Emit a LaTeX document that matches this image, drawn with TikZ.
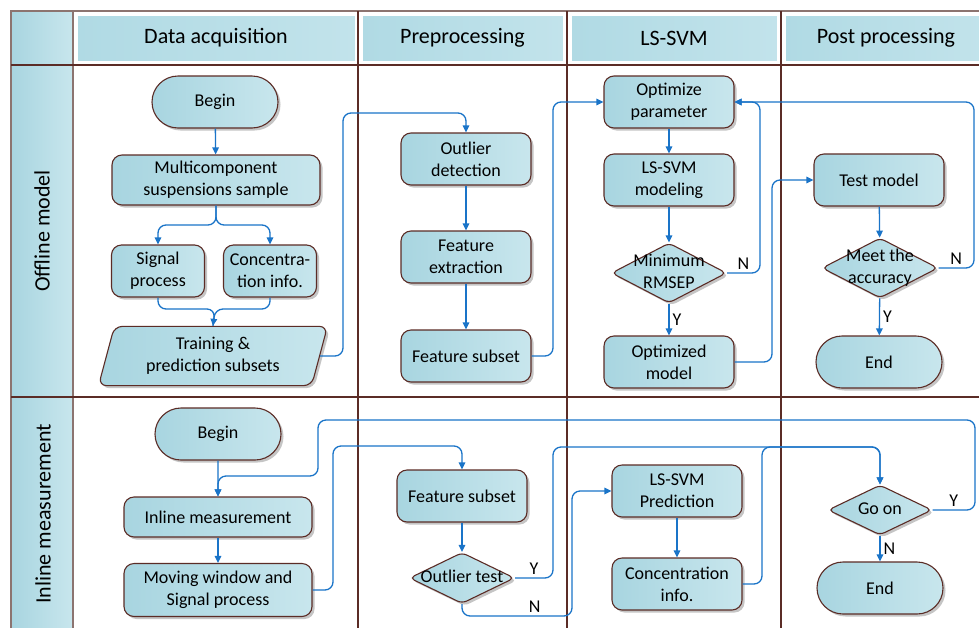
\documentclass[tikz,border=0pt]{standalone}
\usepackage{fontspec}
\setmainfont{Carlito}
\usetikzlibrary{shapes.geometric,shapes.misc,shadows,arrows.meta,positioning}
\definecolor{laneline}{HTML}{5B2C26}
\definecolor{lanegray}{HTML}{8C7470}
\definecolor{flowblue}{HTML}{1A74C8}
\definecolor{boxdark}{HTML}{A8D5E0}
\definecolor{boxlight}{HTML}{C8E6ED}
\definecolor{headdark}{HTML}{B0DAE4}
\definecolor{headlight}{HTML}{C2E3EB}
\newcommand{\decisiontext}[1]{\smash{\makebox[0pt]{\raisebox{-.25em}{\begin{tabular}{@{}c@{}}#1\end{tabular}}}}}
\tikzset{
    box-base/.style = {draw=laneline, line width=1.1pt, left color=boxdark, right color=boxlight, drop shadow={shadow xshift=2.5pt, shadow yshift=-2.5pt, fill=black!45, opacity=.5}, font=\fontsize{18}{22}\selectfont, align=center, inner sep=2pt},
    process-box/.style = {box-base, rectangle, rounded corners=10pt, minimum width=130pt, minimum height=52pt},
    terminal-box/.style = {box-base, rounded rectangle, minimum width=130pt, minimum height=52pt},
    data-box/.style = {box-base, trapezium, trapezium left angle=75, trapezium right angle=105, rounded corners=8pt, minimum width=229pt, minimum height=53pt},
    decision-box/.style = {box-base, diamond, aspect=2, inner sep=0pt, rounded corners=5pt},
    flow/.style = {draw=flowblue, line width=1.3pt, rounded corners=8pt, -{Triangle[length=7pt,width=6.5pt]}},
    flow-line/.style = {draw=flowblue, line width=1.3pt, rounded corners=8pt},
    flow-label/.style = {font=\fontsize{18}{22}\selectfont, inner sep=3pt},
    lane-title/.style = {font=\fontsize{22}{26}\selectfont, rotate=90},
    column-title/.style = {draw=white, line width=1pt, left color=headdark, right color=headlight, font=\fontsize{22}{26}\selectfont, minimum height=46pt},
    frame-line/.style = {draw=laneline, line width=1.2pt},
    frame-row/.style = {draw=laneline, line width=2pt},
}
\begin{document}
\begin{tikzpicture}[x=1pt, y=-1pt]
\clip (0,0) rectangle (979,627);
\fill[white] (0,0) rectangle (979,627);
\fill[left color=boxdark, right color=boxlight] (11,11) rectangle (73,640);
\foreach \cx/\cw/\ctext [count=\i] in {216/278/Data acquisition, 462.5/201/Preprocessing, 674/206/LS-SVM, 886/202/Post processing}
  \node[column-title, minimum width=\cw pt] (head\i) at (\cx,38) {\ctext};
\draw[lanegray, line width=1.5pt] (11,640) -- (11,11) -- (990,11);
\draw[lanegray, line width=1.2pt] (73,11) -- (73,640);
\foreach \lx in {358,567,781}
  \draw[frame-line] (\lx,11) -- (\lx,640);
\draw[frame-row] (11,65) -- (990,65);
\draw[frame-row] (11,397) -- (990,397);

\node[lane-title] (offline) at (42,231) {Offline model};
\node[lane-title] (inline) at (43,514) {Inline measurement};

\node[terminal-box] (begin-off) at (215,102) {Begin};
\node[process-box, minimum width=208pt, minimum height=50pt] (sample) at (216,180) {Multicomponent\\suspensions sample};
\node[process-box, minimum width=93pt] (signal-off) at (158,271) {Signal\\process};
\node[process-box, minimum width=93pt] (conc-off) at (270,271) {Concentra-\\tion info.};
\node[data-box] (subsets) at (213,356) {Training \&\\prediction subsets};
\node[process-box] (outlier-det) at (466,159) {Outlier\\detection};
\node[process-box] (feat-ext) at (466,257) {Feature\\extraction};
\node[process-box] (feat-off) at (466,356) {Feature subset};
\node[process-box] (optimize) at (669,102) {Optimize\\parameter};
\node[process-box] (modeling) at (669,180) {LS-SVM\\modeling};
\node[decision-box, minimum width=115pt, minimum height=60pt] (rmsep) at (669,273) {\decisiontext{Minimum\\RMSEP}};
\node[process-box] (opt-model) at (669,362) {Optimized\\model};
\node[process-box] (test) at (879,180) {Test model};
\node[decision-box, minimum width=116pt, minimum height=60pt] (accuracy) at (880,268) {\decisiontext{Meet the\\accuracy}};
\node[terminal-box] (end-off) at (879,362) {End};

\node[terminal-box] (begin-in) at (218,434) {Begin};
\node[process-box, minimum width=188pt, minimum height=40pt] (measure) at (218,517) {Inline measurement};
\node[process-box, minimum width=188pt, minimum height=53pt] (window) at (218,590) {Moving window and\\Signal process};
\node[process-box] (feat-in) at (462,496) {Feature subset};
\node[decision-box, minimum width=105pt, minimum height=51pt] (outlier-test) at (462,578) {\decisiontext{Outlier test}};
\node[process-box] (predict) at (677,491) {LS-SVM\\Prediction};
\node[process-box] (conc-in) at (677,584) {Concentration\\info.};
\node[decision-box, minimum width=104pt, minimum height=50pt] (go-on) at (880,510) {\decisiontext{Go on}};
\node[terminal-box] (end-in) at (880,588) {End};

\coordinate (split) at (216,225);
\coordinate (merge) at (215,309);
\draw[flow] (begin-off) -- (sample);
\draw[flow] (sample.south) -- (split) -| (signal-off.north);
\draw[flow] (sample.south) -- (split) -| (conc-off.north);
\draw[flow-line] (signal-off.south) |- (merge) -- (subsets.north);
\draw[flow] (conc-off.south) |- (merge) -- (subsets.north);
\draw[flow] (subsets.east) -| (343,113) -| (outlier-det.north);
\draw[flow] (outlier-det) -- (feat-ext);
\draw[flow] (feat-ext) -- (feat-off);
\draw[flow] (feat-off.east) -| (553,102) -- (optimize.west);
\draw[flow] (optimize) -- (modeling);
\draw[flow] (modeling) -- (rmsep);
\draw[flow] (rmsep.east) -- node[flow-label, above]{N} (760,273) |- (optimize.east);
\draw[flow] (rmsep) -- node[flow-label, right]{Y} (opt-model);
\draw[flow] (opt-model.east) -| (772,180) -- (test.west);
\draw[flow] (test) -- (accuracy);
\draw[flow] (accuracy.east) -- node[flow-label, above]{N} (974,268) |- (optimize.east);
\draw[flow] (accuracy) -- node[flow-label, right]{Y} (end-off);

\draw[flow] (begin-in) -- (measure);
\draw[flow] (measure) -- (window);
\draw[flow] (window.east) -| (333,446) -| (feat-in.north);
\draw[flow] (feat-in) -- (outlier-test);
\draw[flow] (outlier-test.east) -- node[flow-label, above]{Y} (553,578) -- (553,447) -| (go-on.north);
\draw[flow] (outlier-test.south) |- node[flow-label, pos=.83, above]{N} (572,616) |- (predict.west);
\draw[flow] (predict) -- (conc-in);
\draw[flow] (conc-in.east) -| (762,447) -| (go-on.north);
\draw[flow] (go-on.east) -- node[flow-label, above]{Y} (975,510) |- (318,420) -- (318,476) -| (measure.north);
\draw[flow] (go-on) -- node[flow-label, right]{N} (end-in);
\end{tikzpicture}
\end{document}
